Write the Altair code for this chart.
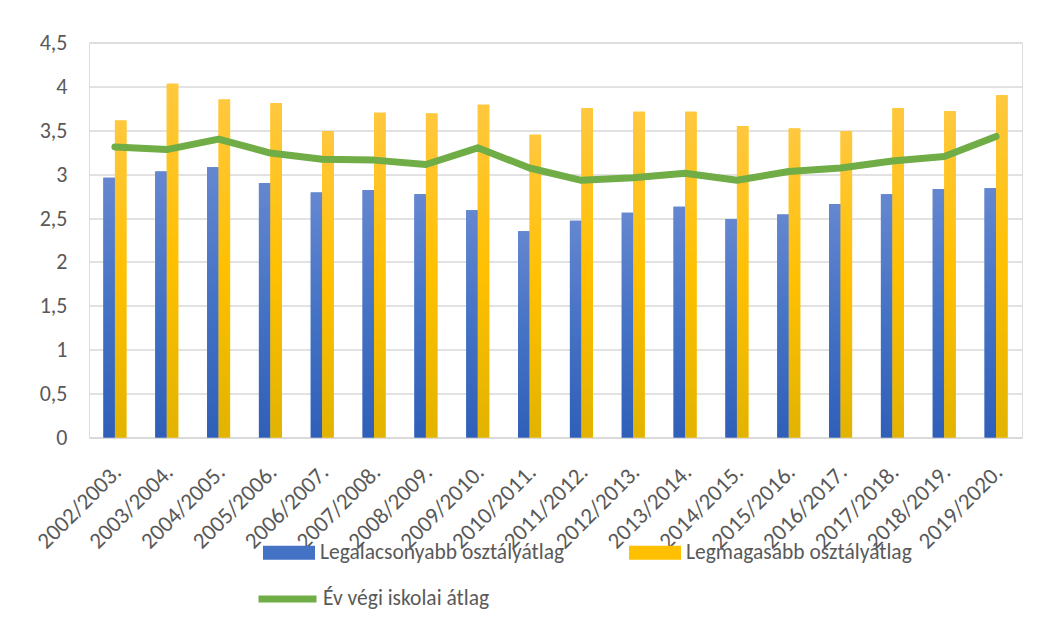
import altair as alt
import pandas as pd

categories = ["2002/2003.", "2003/2004.", "2004/2005.", "2005/2006.", "2006/2007.",
              "2007/2008.", "2008/2009.", "2009/2010.", "2010/2011.", "2011/2012.",
              "2012/2013.", "2013/2014.", "2014/2015.", "2015/2016.", "2016/2017.",
              "2017/2018.", "2018/2019.", "2019/2020."]
lowest = [2.96, 3.03, 3.08, 2.90, 2.79, 2.82, 2.77, 2.59, 2.35, 2.47,
          2.56, 2.63, 2.49, 2.54, 2.66, 2.77, 2.83, 2.84]
highest = [3.61, 4.03, 3.85, 3.81, 3.49, 3.70, 3.69, 3.79, 3.45, 3.75,
           3.71, 3.71, 3.55, 3.52, 3.49, 3.75, 3.72, 3.90]
school_avg = [3.31, 3.28, 3.40, 3.24, 3.17, 3.16, 3.11, 3.30, 3.07, 2.93,
              2.96, 3.01, 2.93, 3.03, 3.07, 3.15, 3.20, 3.43]

s_low = "Legalacsonyabb osztályátlag"
s_high = "Legmagasabb osztályátlag"
s_line = "Év végi iskolai átlag"

FONT = "Carlito, Lato, sans-serif"
TXT = "#595959"
GRID = "#d9d9d9"

bars = pd.DataFrame(
    [{"cat": c, "series": s_low, "value": v} for c, v in zip(categories, lowest)]
    + [{"cat": c, "series": s_high, "value": v} for c, v in zip(categories, highest)]
)
line = pd.DataFrame({"cat": categories, "value": school_avg, "series": s_line})

x_enc = alt.X("cat:N", sort=categories,
              scale=alt.Scale(paddingInner=0.556, paddingOuter=0.278),
              axis=alt.Axis(title=None, labelAngle=-45, labelFont=FONT, labelFontSize=23,
                            labelColor=TXT, ticks=False, domainColor=GRID, domainWidth=1.5,
                            labelPadding=23, labelOffset=-5, grid=False, labelLimit=0))
y_enc = alt.Y("value:Q",
              scale=alt.Scale(domain=[0, 4.5], nice=False),
              axis=alt.Axis(title=None, values=[0, 0.5, 1, 1.5, 2, 2.5, 3, 3.5, 4, 4.5],
                            labelExpr="replace(toString(datum.value), '.', ',')",
                            labelFont=FONT, labelFontSize=22, labelColor=TXT,
                            ticks=False, domain=False, gridColor=GRID, gridWidth=1.5,
                            labelPadding=22))
xoff = alt.XOffset("series:N", sort=[s_low, s_high],
                   scale=alt.Scale(domain=[s_low, s_high], paddingInner=0, paddingOuter=0))

base_bars = alt.Chart(bars).mark_bar().encode(
    x=x_enc, y=y_enc, xOffset=xoff,
    fill=alt.Fill("series:N",
                  scale=alt.Scale(domain=[s_low, s_high], range=["#4472C4", "#FFC000"]),
                  legend=alt.Legend(title=None, orient="none", legendX=174, legendY=484,
                                    direction="horizontal", columns=2, columnPadding=64,
                                    symbolType="M-1,-0.27H1V0.27H-1Z", symbolSize=2704,
                                    symbolStrokeWidth=0, labelOffset=5, labelLimit=0,
                                    labelFont=FONT, labelFontSize=21.5, labelColor=TXT,
                                    padding=0))
)

def grad(top, mid, bottom):
    return alt.Gradient(gradient="linear", x1=0, x2=0, y1=0, y2=1,
                        stops=[alt.GradientStop(color=top, offset=0),
                               alt.GradientStop(color=mid, offset=0.5),
                               alt.GradientStop(color=bottom, offset=1)])

blue_bars = alt.Chart(bars).transform_filter(alt.datum.series == s_low).mark_bar(
    color=grad("#6587d0", "#4472C4", "#2f5fb8")
).encode(x=x_enc, y=y_enc, xOffset=xoff)

orange_bars = alt.Chart(bars).transform_filter(alt.datum.series == s_high).mark_bar(
    color=grad("#ffc83f", "#ffc000", "#e2b300")
).encode(x=x_enc, y=y_enc, xOffset=xoff)

line_layer = alt.Chart(line).mark_line(strokeWidth=7, strokeJoin="round", strokeCap="round").encode(
    x=x_enc, y=y_enc,
    stroke=alt.Stroke("series:N",
                      scale=alt.Scale(domain=[s_line], range=["#70AD47"]),
                      legend=alt.Legend(title=None, orient="none", legendX=166, legendY=524,
                                        symbolType="stroke", symbolSize=3364,
                                        symbolStrokeWidth=7, labelOffset=3, labelLimit=0,
                                        labelFont=FONT, labelFontSize=21.5, labelColor=TXT,
                                        padding=0))
)

chart = alt.layer(base_bars, blue_bars, orange_bars, line_layer).resolve_scale(
    fill="independent", stroke="independent"
).properties(
    width=933, height=395,
    autosize=alt.AutoSizeParams(type="none"),
    padding={"left": 81, "top": 34.5, "right": 10, "bottom": 180},
).configure_view(stroke=None).configure(background="white")

chart.save("out.html", embed_options={"renderer": "svg", "actions": False})
